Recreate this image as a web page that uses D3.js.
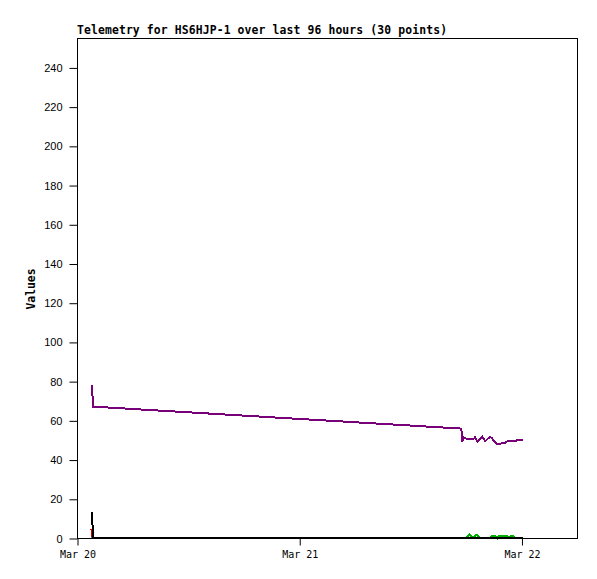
<!DOCTYPE html>
<html>
<head>
<meta charset="utf-8">
<script src="https://cdn.jsdelivr.net/npm/d3@7"></script>
<style>
  body { margin: 0; background: #fff; }
  .title, .ylab { font-family: "DejaVu Sans Mono", monospace; font-weight: bold; font-size: 11.4px; }
  .yaxis text { font-family: "Liberation Sans", Arial, sans-serif; font-size: 11px; }
  .xaxis text { font-family: "DejaVu Sans Mono", monospace; font-size: 10px; }
</style>
</head>
<body>
<svg id="chart"></svg>
<script>
// hours after Mar 20 00:00 for each reading, plus the value
var startDate = new Date(2024, 2, 20, 0, 0);
var endDate = new Date(2024, 2, 22, 6, 0);

var purpleHours = [1.62, 1.73, 41.51, 41.62, 41.73, 42.2, 42.81, 43.0, 43.24, 43.75, 44.11, 44.54, 44.76, 45.3, 45.73, 45.95, 46.27, 46.49, 47.46, 47.57, 48.15];
var purpleValues = [78, 67, 55.8, 49.2, 51.4, 50.4, 50.4, 51.4, 49.0, 51.7, 49.4, 51.4, 51.2, 48.0, 48.0, 48.7, 48.5, 49.4, 49.4, 50.2, 50.2];

var blackHours = [1.62, 1.73, 48.15];
var blackValues = [13.3, 0, 0];

var redHours = [1.55, 1.7];
var redValues = [4.5, 0];

var blueHours = [1.55, 1.7];
var blueValues = [0.6, 0];

var greenHours = [41.6, 42.0, 42.4, 42.8, 43.1, 43.5, 44.6, 44.8, 45.2, 45.4, 45.5, 46.5, 46.7, 46.8, 47.1, 47.3, 48.15];
var greenValues = [0, 0, 1.8, 0, 1.8, 0, 0, 0.9, 0.9, 0, 0.9, 0.9, 0, 0.9, 0.9, 0, 0];

var yTicks = [0, 20, 40, 60, 80, 100, 120, 140, 160, 180, 200, 220, 240];
var xTicks = [new Date(2024, 2, 20), new Date(2024, 2, 21), new Date(2024, 2, 22)];

var width = 597, height = 579;
var margin = { top: 38, right: 20, bottom: 41, left: 77 };

var svg = d3.select('#chart').attr('width', width).attr('height', height);

var xScale = d3.scaleTime().domain([startDate, endDate]).range([margin.left, width - margin.right]);
var yScale = d3.scaleLinear().domain([0, 255]).range([height - margin.bottom, margin.top]);

function toSeries(hours, values) {
  return hours.map(function(h, i) {
    return { t: new Date(startDate.getTime() + h * 3600000), v: values[i] };
  });
}

var series = [
  { color: '#00b000', data: toSeries(greenHours, greenValues) },
  { color: '#3a78c0', data: toSeries(blueHours, blueValues) },
  { color: '#d00000', data: toSeries(redHours, redValues) },
  { color: '#000000', data: toSeries(blackHours, blackValues) },
  { color: '#780078', data: toSeries(purpleHours, purpleValues) }
];

// frame
svg.append('rect')
    .attr('x', margin.left + 0.5)
    .attr('y', margin.top + 0.5)
    .attr('width', width - margin.left - margin.right)
    .attr('height', height - margin.top - margin.bottom)
    .attr('fill', 'none')
    .attr('stroke', '#000');

var line = d3.line()
    .x(function(d) { return xScale(d.t); })
    .y(function(d) { return yScale(d.v); });

svg.append('g').selectAll('path')
    .data(series)
  .enter().append('path')
    .attr('d', function(s) { return line(s.data); })
    .attr('fill', 'none')
    .attr('stroke', function(s) { return s.color; })
    .attr('stroke-width', 2)
    .attr('shape-rendering', 'crispEdges');

// axes
var yAxis = svg.append('g')
    .attr('class', 'yaxis')
    .attr('transform', 'translate(' + (margin.left + 0.5) + ',0.5)')
    .call(d3.axisLeft(yScale).tickValues(yTicks).tickSize(8).tickPadding(7));
yAxis.select('.domain').remove();

var xAxis = svg.append('g')
    .attr('class', 'xaxis')
    .attr('transform', 'translate(0.5,' + (height - margin.bottom + 0.5) + ')')
    .call(d3.axisBottom(xScale).tickValues(xTicks).tickSize(7).tickPadding(5)
      .tickFormat(d3.timeFormat('%b %d')));
xAxis.select('.domain').remove();

svg.append('text')
    .attr('class', 'title')
    .attr('x', margin.left)
    .attr('y', 34)
    .attr('textLength', 370)
    .attr('lengthAdjust', 'spacing')
    .text('Telemetry for HS6HJP-1 over last 96 hours (30 points)');

svg.append('text')
    .attr('class', 'ylab')
    .attr('transform', 'translate(35,' + 289 + ') rotate(-90)')
    .attr('text-anchor', 'middle')
    .text('Values');
</script>
</body>
</html>
